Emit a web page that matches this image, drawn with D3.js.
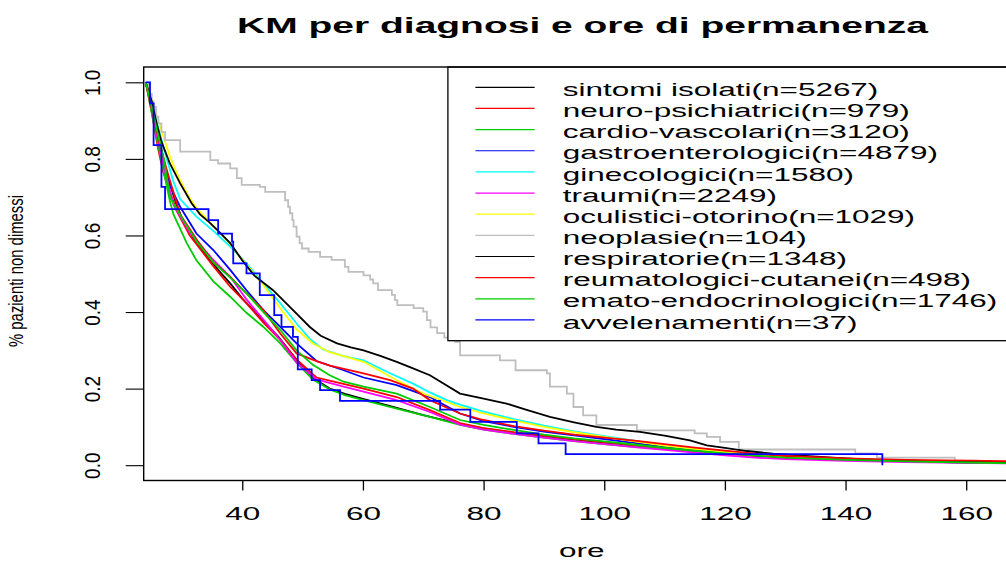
<!DOCTYPE html>
<html><head><meta charset="utf-8">
<script src="https://cdn.jsdelivr.net/npm/d3@7/dist/d3.min.js"></script>
<style>
body{margin:0;background:#fff}
svg{display:block}
text{font-family:"Liberation Sans",Arial,Helvetica,sans-serif;fill:#000}
</style>
</head><body>
<svg id="c" width="1006" height="562"></svg>
<script>
// ---------- data ----------
const titleText = "KM per diagnosi e ore di permanenza";
const xLabel = "ore";
const yLabel = "% pazienti non dimessi";
const categories = ["sintomi isolati","neuro-psichiatrici","cardio-vascolari","gastroenterologici","ginecologici","traumi","oculistici-otorino","neoplasie","respiratorie","reumatologici-cutanei","emato-endocrinologici","avvelenamenti"];
const counts = [5267,979,3120,4879,1580,2249,1029,104,1348,498,1746,37];
const colors = ["#000000","#FF0000","#00CD00","#0000FF","#00FFFF","#FF00FF","#FFFF00","#BEBEBE","#000000","#FF0000","#00CD00","#0000FF"];
const xTicks = [40,60,80,100,120,140,160];
const yTicks = [0,0.2,0.4,0.6,0.8,1.0];

// survival estimates [hours, fraction]
const sintomi = [[24,1],[25,0.93],[26,0.86],[27,0.795],[28,0.735],[29,0.685],[30,0.645],[32,0.59],[34,0.55],[36,0.51],[38,0.475],[40,0.435],[43,0.385],[46,0.335],[49,0.275],[51.7,0.228],[54.5,0.2],[57,0.186],[60,0.173],[65,0.152],[70,0.131],[76,0.108],[80,0.096],[85,0.084],[90,0.074],[95,0.066],[100,0.058],[105,0.051],[110,0.044],[115,0.037],[120,0.031],[125,0.026],[130,0.022],[140,0.016],[150,0.012],[160,0.009],[168.9,0.007]];
const neuro = [[24,1],[25,0.92],[26,0.83],[26.9,0.765],[29.1,0.665],[31.3,0.6],[35.2,0.52],[38,0.466],[40.7,0.423],[43.5,0.372],[46.3,0.327],[49,0.276],[52.3,0.229],[55.7,0.216],[60.1,0.2],[65.6,0.178],[71.1,0.144],[76.1,0.11],[80,0.097],[85,0.086],[90,0.077],[95,0.068],[100,0.06],[105,0.052],[110,0.044],[115,0.037],[120,0.03],[125,0.024],[130,0.019],[140,0.014],[150,0.01],[160,0.007],[168.9,0.005]];
const cardio = [[24,1],[25,0.92],[26,0.84],[27,0.765],[28,0.69],[28.6,0.655],[30.8,0.58],[32.4,0.535],[35.2,0.48],[38,0.44],[40.7,0.398],[43.5,0.361],[46.3,0.318],[49,0.268],[51.7,0.224],[54.5,0.198],[57,0.183],[60.1,0.17],[65.6,0.148],[71.1,0.126],[76.1,0.105],[80,0.093],[85,0.082],[90,0.072],[95,0.063],[100,0.055],[105,0.048],[110,0.042],[115,0.036],[120,0.031],[125,0.027],[130,0.023],[140,0.017],[150,0.012],[160,0.008],[168.9,0.006]];
const gastro = [[24,1],[25,0.935],[26,0.86],[26.9,0.79],[28,0.73],[29.7,0.675],[32.4,0.605],[35.2,0.562],[38,0.51],[40.7,0.457],[43.5,0.405],[46.3,0.361],[49,0.318],[52.3,0.272],[56.8,0.248],[60.1,0.229],[65.6,0.209],[71.1,0.178],[76.1,0.135],[80,0.115],[85,0.1],[90,0.088],[95,0.078],[100,0.068],[105,0.058],[110,0.048],[115,0.04],[120,0.033],[125,0.026],[130,0.021],[140,0.015],[150,0.01],[160,0.007],[168.9,0.005]];
const gineco = [[24,1],[25,0.945],[26,0.885],[27.5,0.8],[28.6,0.74],[29.7,0.695],[32.4,0.649],[35.2,0.612],[38,0.571],[40.7,0.527],[43.5,0.475],[46.3,0.423],[49,0.37],[51.2,0.33],[53.4,0.302],[56.8,0.285],[60.1,0.274],[64.5,0.24],[68.3,0.213],[71.1,0.19],[73.9,0.17],[76.1,0.158],[80,0.14],[85,0.12],[90,0.103],[95,0.088],[100,0.076],[105,0.064],[110,0.052],[115,0.043],[120,0.035],[125,0.028],[130,0.022],[140,0.016],[150,0.011],[160,0.008],[168.9,0.006]];
const traumi = [[24,1],[25,0.93],[26,0.85],[27,0.78],[28.6,0.68],[31.3,0.607],[35.2,0.536],[38,0.492],[40.7,0.433],[43.5,0.38],[46.3,0.327],[49,0.268],[52.3,0.224],[56.8,0.205],[60.1,0.192],[65.6,0.17],[71.1,0.139],[76.1,0.106],[80,0.093],[85,0.082],[90,0.072],[95,0.063],[100,0.055],[105,0.047],[110,0.04],[115,0.033],[120,0.026],[125,0.02],[130,0.016],[140,0.011],[150,0.008],[160,0.006],[168.9,0.004]];
const oculistici = [[24,1],[25,0.955],[26,0.905],[27,0.855],[28,0.805],[29.5,0.75],[31,0.705],[32.4,0.672],[34,0.645],[36,0.612],[38,0.577],[40,0.537],[43.5,0.47],[46.3,0.41],[49,0.355],[51.7,0.318],[54.5,0.295],[60.1,0.27],[65.6,0.222],[70,0.187],[73.9,0.165],[76.1,0.152],[80,0.135],[85,0.117],[90,0.1],[95,0.086],[100,0.074],[105,0.062],[110,0.051],[115,0.042],[120,0.034],[125,0.027],[130,0.022],[140,0.016],[150,0.011],[160,0.008],[168.9,0.006]];
const neoplasie = [[24,1],[24.5,0.97],[25,0.95],[25.3,0.936],[25.7,0.91],[26.1,0.893],[26.6,0.87],[27.2,0.849],[29.7,0.819],[34.7,0.797],[36,0.788],[38,0.775],[39.1,0.75],[39.9,0.732],[42.9,0.727],[43.8,0.714],[47.1,0.692],[47.6,0.675],[47.9,0.658],[48.3,0.64],[48.5,0.623],[49,0.597],[49.5,0.58],[49.9,0.566],[51,0.557],[52.9,0.544],[54.8,0.536],[57,0.518],[57.6,0.505],[60.1,0.496],[61.2,0.485],[61.7,0.475],[62.5,0.457],[64.8,0.445],[65.3,0.431],[65.7,0.418],[68.4,0.41],[70,0.401],[70.6,0.379],[71.2,0.36],[72.3,0.345],[73.5,0.333],[75.3,0.322],[76.1,0.287],[82.7,0.274],[85.3,0.248],[90.5,0.24],[91,0.205],[93.8,0.187],[94.9,0.152],[96.5,0.13],[98.7,0.105],[105.4,0.091],[115,0.083],[117,0.074],[119.2,0.061],[122.3,0.041],[141.6,0.031],[145.2,0.02],[158.1,0.012],[162,0.012]];
const respiratorie = [[24,1],[25,0.95],[25.8,0.893],[26.6,0.845],[28,0.788],[29.7,0.736],[31.6,0.684],[33,0.655],[34.5,0.635],[36,0.612],[38,0.58],[40,0.535],[42,0.495],[45.1,0.457],[49,0.396],[51.2,0.361],[53,0.338],[55.7,0.318],[58,0.308],[60.1,0.3],[63,0.285],[65.6,0.27],[68,0.255],[71.1,0.235],[76.1,0.187],[80,0.174],[83.8,0.161],[87,0.145],[91,0.126],[95,0.112],[98.7,0.1],[102,0.093],[105.9,0.087],[110,0.077],[114.2,0.065],[117,0.052],[120,0.045],[123.6,0.037],[128,0.03],[134.6,0.023],[140,0.018],[145.7,0.013],[152,0.011],[160,0.009],[168.9,0.008]];
const reumato = [[24,1],[25,0.93],[26,0.86],[27.5,0.77],[29.7,0.655],[32.4,0.59],[35.2,0.53],[38,0.492],[40.7,0.449],[43.5,0.405],[46.3,0.344],[49,0.292],[52.3,0.272],[54.5,0.26],[60.1,0.24],[64.5,0.222],[68.3,0.2],[71.1,0.17],[76.1,0.135],[80,0.118],[85,0.102],[90,0.09],[95,0.08],[100,0.072],[105,0.064],[110,0.055],[115,0.046],[120,0.038],[125,0.03],[130,0.024],[140,0.018],[150,0.014],[160,0.012],[168.9,0.01]];
const emato = [[24,1],[25,0.935],[26,0.865],[27,0.8],[28,0.7],[30.2,0.64],[32.4,0.585],[35.2,0.53],[38,0.49],[40.7,0.449],[43.5,0.4],[46.3,0.353],[49,0.3],[51.7,0.262],[54.5,0.235],[56.8,0.218],[60.1,0.205],[65.6,0.187],[71.1,0.152],[76.1,0.118],[80,0.105],[85,0.092],[90,0.08],[95,0.07],[100,0.062],[105,0.054],[110,0.046],[115,0.038],[120,0.031],[125,0.025],[130,0.02],[140,0.014],[150,0.01],[160,0.007],[168.9,0.005]];
const avvelenamenti = [[24,1],[24.7,0.945],[25.3,0.836],[26.6,0.727],[27.2,0.669],[34.4,0.64],[36,0.605],[38.3,0.584],[38.5,0.527],[40.7,0.501],[42.9,0.444],[45.3,0.392],[46.5,0.361],[48.4,0.335],[49.2,0.25],[51.5,0.222],[52.9,0.196],[56.2,0.168],[72.8,0.145],[77.8,0.113],[85.5,0.083],[89.1,0.057],[93.6,0.029],[146.1,0]];

const series = [sintomi,neuro,cardio,gastro,gineco,traumi,oculistici,neoplasie,respiratorie,reumato,emato,avvelenamenti];
const stepped = [false,false,false,false,false,false,false,true,false,false,false,true];

// ---------- layout ----------
const svg = d3.select("#c");
const L = 143.7, R = 1019.9, T = 67, B = 480.5;
const x = d3.scaleLinear().domain([23.66,168.9]).range([L,R]);
const y = d3.scaleLinear().domain([-0.04,1.04]).range([B,T]);
const FS = 18;

function natWidth(str, size, weight){
  const t = svg.append("text").attr("font-size",size).attr("font-weight",weight||"normal").text(str);
  const w = t.node().getComputedTextLength(); t.remove(); return w;
}
const longest = categories[10] + "(n=" + counts[10] + ")";
const SX = 435 / natWidth(longest, FS);

svg.append("defs").append("clipPath").attr("id","clip")
  .append("rect").attr("x",L).attr("y",T).attr("width",R-L).attr("height",B-T);

// curves
const gC = svg.append("g").attr("clip-path","url(#clip)");
series.forEach((d,i)=>{
  const line = d3.line().x(p=>x(p[0])).y(p=>y(p[1]))
    .curve(stepped[i] ? d3.curveStepAfter : d3.curveLinear);
  gC.append("path").attr("d",line(d)).attr("fill","none")
    .attr("stroke",colors[i]).attr("stroke-width",1.8).attr("stroke-linejoin","miter");
});

// legend
const lg = svg.append("g");
lg.append("rect").attr("x",447.9).attr("y",T).attr("width",R-447.9).attr("height",340.7-T)
  .attr("fill","#fff").attr("stroke","#000").attr("stroke-width",1.3);
categories.forEach((c,i)=>{
  const ly = 87.3 + i*21.15;
  lg.append("line").attr("x1",475.4).attr("x2",534.6).attr("y1",ly).attr("y2",ly)
    .attr("stroke",colors[i]).attr("stroke-width",1.2);
  lg.append("text").attr("transform",`translate(562.7,${ly+8.6}) scale(${SX},1)`)
    .attr("font-size",FS).text(c + "(n=" + counts[i] + ")");
});

// box
svg.append("rect").attr("x",L).attr("y",T).attr("width",R-L).attr("height",B-T)
  .attr("fill","none").attr("stroke","#000").attr("stroke-width",1.4);

// x axis
const gx = svg.append("g").attr("transform",`translate(0,${B})`)
  .call(d3.axisBottom(x).tickValues(xTicks).tickSize(10).tickFormat(d3.format("d")));
gx.select(".domain").remove();
gx.selectAll("line").attr("stroke","#000").attr("stroke-width",1.3);
gx.selectAll("text").attr("y",null).attr("dy",null).attr("font-size",FS)
  .attr("font-family",null).attr("fill","#000").attr("text-anchor","middle")
  .attr("transform",`translate(0,39.5) scale(${SX},1)`);

// y axis
const gy = svg.append("g").attr("transform",`translate(${L},0)`)
  .call(d3.axisLeft(y).tickValues(yTicks).tickSize(18).tickFormat(d3.format(".1f")));
gy.select(".domain").remove();
gy.selectAll("line").attr("stroke","#000").attr("stroke-width",1.1);
gy.selectAll("text").attr("x",null).attr("dy",null).attr("font-size",19)
  .attr("font-family",null).attr("fill","#000").attr("text-anchor","middle")
  .attr("transform","translate(-43.7,0) scale(1.15,1) rotate(-90)");

// title
const TW = natWidth(titleText, 21.6, "bold");
svg.append("text").attr("transform",`translate(582.5,33.3) scale(${691/TW},1)`)
  .attr("text-anchor","middle").attr("font-size",21.6).attr("font-weight","bold").text(titleText);

// axis titles
svg.append("text").attr("transform",`translate(581.8,557) scale(${SX},1)`)
  .attr("text-anchor","middle").attr("font-size",FS).text(xLabel);
svg.append("text").attr("transform","translate(23,271) scale(1.15,1) rotate(-90)")
  .attr("text-anchor","middle").attr("font-size",18)
  .attr("textLength",152).attr("lengthAdjust","spacingAndGlyphs").text(yLabel);
</script>
</body></html>
